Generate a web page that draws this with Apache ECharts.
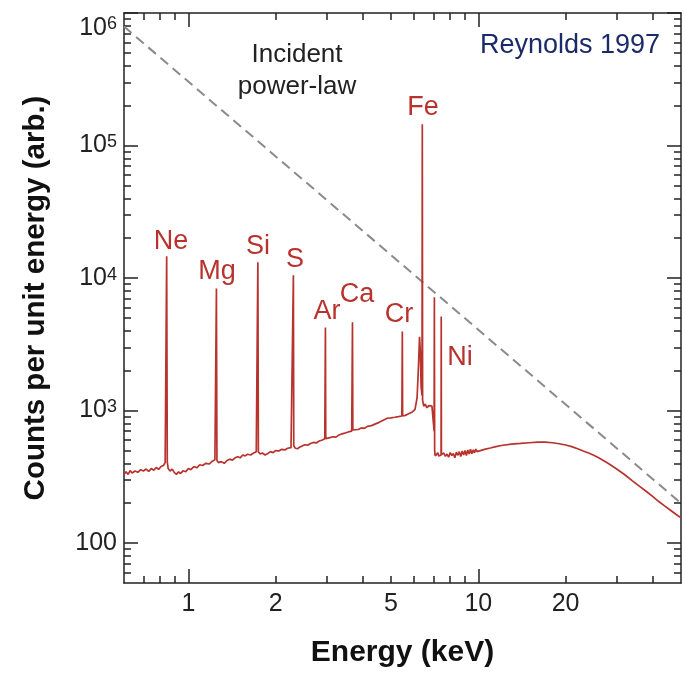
<!DOCTYPE html>
<html>
<head>
<meta charset="utf-8">
<title>Reynolds 1997 - X-ray spectrum</title>
<script src="https://cdn.jsdelivr.net/npm/echarts@6/dist/echarts.min.js"></script>
<style>
  html, body { margin: 0; padding: 0; background: #fff; }
  #main { width: 686px; height: 674px; }
</style>
</head>
<body>
<div id="main"></div>
<script>
// spectrum: energy in keV, counts per unit energy
var energy = [
  0.600, 0.610, 0.620, 0.630, 0.640, 0.655, 0.670, 0.685, 0.700, 0.715,
  0.730, 0.745, 0.760, 0.775, 0.790, 0.805, 0.820, 0.832,
  0.838, 0.842, 0.846,                       // Ne
  0.852, 0.865, 0.880, 0.895, 0.910, 0.925, 0.940, 0.960, 0.980, 1.000,
  1.020, 1.045, 1.070, 1.095, 1.120, 1.150, 1.180, 1.210, 1.235,
  1.245, 1.250, 1.255,                       // Mg
  1.270, 1.300, 1.330, 1.360, 1.390, 1.420, 1.450, 1.480, 1.510, 1.540,
  1.570, 1.600, 1.640, 1.680, 1.715,
  1.730, 1.737, 1.744,                       // Si
  1.770, 1.800, 1.840, 1.880, 1.920, 1.960, 2.000, 2.050, 2.100, 2.150,
  2.200, 2.260, 2.290,
  2.296, 2.303, 2.310,                       // S
  2.340, 2.380, 2.420, 2.470, 2.520, 2.580, 2.640, 2.700, 2.760, 2.830,
  2.900, 2.955,
  2.962, 2.970, 2.978,                       // Ar
  3.020, 3.080, 3.150, 3.230, 3.310, 3.390, 3.460, 3.560, 3.660,
  3.672, 3.682, 3.692,                       // Ca
  3.750, 3.850, 3.950, 4.050, 4.150, 4.280, 4.400, 4.550, 4.700, 4.850,
  5.000, 5.150, 5.300, 5.450,
  5.458, 5.470, 5.482,                       // Cr
  5.600, 5.750, 5.900, 6.050, 6.150, 6.220, 6.270, 6.310, 6.350,
  6.395, 6.410, 6.425,                       // Fe
  6.480, 6.560, 6.650, 6.750, 6.850, 6.920, 7.040,
  7.055,                                     // line at the edge
  7.070, 7.100, 7.150, 7.200, 7.250, 7.300, 7.380,
  7.440, 7.450, 7.460,                       // Ni
  7.520, 7.600, 7.700, 7.800, 7.900, 8.000, 8.100, 8.200, 8.300, 8.400,
  8.500, 8.600, 8.700, 8.800, 8.900, 9.000, 9.100, 9.200, 9.300, 9.400,
  9.500, 9.600, 9.700, 9.800, 9.900, 10.00,
  10.5, 11.0, 11.5, 12.0, 13.0, 14.0, 15.0, 16.0, 17.0, 18.0,
  19.0, 20.0, 21.0, 22.0, 23.0, 24.0, 25.0, 26.0, 27.0, 28.0,
  30.0, 32.0, 34.0, 36.0, 38.0, 40.0, 42.0, 44.0, 46.0, 48.0, 50.0
];
var counts = [
  330, 345, 330, 352, 338, 350, 342, 358, 350, 362,
  348, 365, 355, 372, 360, 378, 385, 405,
  400, 14600, 410,
  365, 350, 362, 340, 330, 345, 335, 352, 345, 365,
  358, 378, 370, 390, 385, 400, 395, 415, 425,
  425, 8350, 420,
  405, 412, 400, 420, 430, 422, 440, 448, 440, 462,
  455, 468, 462, 478, 490,
  490, 13150, 488,
  470, 478, 462, 475, 490, 482, 500, 495, 510, 505,
  520, 525, 535,
  535, 10480, 540,
  520, 515, 530, 540, 552, 548, 565, 575, 570, 590,
  600, 612,
  612, 4240, 615,
  605, 625, 635, 630, 655, 668, 675, 690, 700,
  700, 4630, 715,
  712, 720, 740, 735, 760, 770, 790, 815, 845, 875,
  880, 890, 900, 910,
  905, 3950, 910,
  920, 945, 970, 1020, 1250, 2200, 3600, 2800, 1500,
  1300, 145000, 1200,
  1080, 1120, 1050, 1090, 1060, 1080, 700,
  7150,
  500, 455, 470, 445, 480, 455, 470,
  460, 5130, 465,
  450, 478, 452, 470, 445, 482, 458, 475, 440, 485,
  460, 490, 450, 495, 462, 500, 458, 505, 470, 510,
  472, 505, 480, 512, 490, 500,
  510, 522, 535, 545, 558, 565, 572, 578, 578, 572,
  562, 550, 535, 515, 495, 478, 460, 440, 420, 400,
  362, 328, 295, 268, 245, 224, 205, 190, 177, 165, 155
];

// incident power law (end points)
var powerLawE = [0.6, 50];
var powerLawC = [790000, 200];

// axis ticks
var xLabels = [1, 2, 5, 10, 20];
var xMajor = [1, 10];
var xMinor = [0.7, 0.8, 0.9, 2, 3, 4, 5, 6, 7, 8, 9, 20, 30, 40];
var yMajor = [100, 1e3, 1e4, 1e5, 1e6];
var yMinor = [60, 70, 80, 90, 200, 300, 400, 500, 600, 700, 800, 900,
  2e3, 3e3, 4e3, 5e3, 6e3, 7e3, 8e3, 9e3, 2e4, 3e4, 4e4, 5e4, 6e4, 7e4, 8e4, 9e4,
  2e5, 3e5, 4e5, 5e5, 6e5, 7e5, 8e5, 9e5];

var FONT = "'Liberation Sans', Arial, Helvetica, sans-serif";
var RED = '#b8332d';
var AXIS = '#222';

function zip(a, b) {
  var out = [];
  for (var i = 0; i < a.length; i++) out.push([a[i], b[i]]);
  return out;
}

function makeAxis(dim, pos, ticks, len, main, labels) {
  var ax = {
    type: 'log',
    logBase: 10,
    position: pos,
    min: dim === 'x' ? 0.6 : 50,
    max: dim === 'x' ? 50 : 1e6,
    splitLine: { show: false },
    minorTick: { show: false },
    axisLine: { show: main, lineStyle: { color: AXIS, width: 1.5 } },
    axisTick: {
      show: true, inside: true, length: len, customValues: ticks,
      lineStyle: { color: AXIS, width: 1.5 }
    },
    axisLabel: { show: false }
  };
  if (labels) {
    ax.axisLabel = {
      show: true,
      customValues: labels,
      fontFamily: FONT,
      fontSize: 25,
      color: AXIS,
      margin: dim === 'x' ? 9 : 7
    };
    if (dim === 'x') {
      ax.axisLabel.formatter = function (v) { return String(v); };
    } else {
      ax.axisLabel.formatter = function (v) {
        if (v < 500) return '{b|100}';
        var e = Math.round(Math.log10(v));
        // the top label sits a little lower, as in the original
        if (v > 5e5) return '{gap| }\n{b|10}{s|' + e + '}';
        return '{b|10}{s|' + e + '}';
      };
      ax.axisLabel.rich = {
        b: { fontFamily: FONT, fontSize: 25, color: AXIS, lineHeight: 25, verticalAlign: 'bottom' },
        s: { fontFamily: FONT, fontSize: 18, color: AXIS, lineHeight: 18, verticalAlign: 'top' },
        gap: { fontSize: 10, lineHeight: 30 }
      };
    }
  }
  return ax;
}

var chart = echarts.init(document.getElementById('main'));

var xAxes = [
  makeAxis('x', 'bottom', xMajor, 14, true, xLabels),
  makeAxis('x', 'bottom', xMinor, 7, false),
  makeAxis('x', 'top', xMajor, 14, true),
  makeAxis('x', 'top', xMinor, 7, false)
];
xAxes[0].name = 'Energy (keV)';
xAxes[0].nameLocation = 'middle';
xAxes[0].nameGap = 55;
xAxes[0].nameTextStyle = { fontFamily: FONT, fontSize: 30, fontWeight: 'bold', color: '#111' };

var yAxes = [
  makeAxis('y', 'left', yMajor, 14, true, yMajor),
  makeAxis('y', 'left', yMinor, 7, false),
  makeAxis('y', 'right', yMajor, 14, true),
  makeAxis('y', 'right', yMinor, 7, false)
];
yAxes[0].name = 'Counts per unit energy (arb.)';
yAxes[0].nameLocation = 'middle';
yAxes[0].nameGap = 73;
yAxes[0].nameTextStyle = { fontFamily: FONT, fontSize: 29.5, fontWeight: 'bold', color: '#111' };

function label(text, x, y, color, size) {
  return {
    type: 'text',
    x: x, y: y,
    z: 10,
    style: {
      text: text,
      fill: color,
      font: size + 'px ' + FONT,
      align: 'center',
      verticalAlign: 'middle'
    }
  };
}

chart.setOption({
  backgroundColor: '#fff',
  animation: false,
  grid: { left: 124, top: 13, right: 5, bottom: 91, outerBoundsMode: 'none', containLabel: false },
  xAxis: xAxes,
  yAxis: yAxes,
  series: [
    {
      name: 'Incident power-law',
      type: 'line',
      data: zip(powerLawE, powerLawC),
      showSymbol: false,
      lineStyle: { color: '#8a8a8a', width: 2, type: [10, 6] },
      z: 2
    },
    {
      name: 'Spectrum',
      type: 'line',
      data: zip(energy, counts),
      showSymbol: false,
      sampling: null,
      lineStyle: { color: RED, width: 1.7 },
      z: 3
    }
  ],
  graphic: [
    label('Incident', 297, 55, '#222', 26),
    label('power-law', 297, 87, '#222', 26),
    label('Reynolds 1997', 570, 46, '#1b2a68', 27),
    label('Ne', 171, 242, RED, 27),
    label('Mg', 217, 272, RED, 27),
    label('Si', 258, 247, RED, 27),
    label('S', 295, 260, RED, 27),
    label('Ar', 327, 312, RED, 27),
    label('Ca', 357, 295, RED, 27),
    label('Cr', 399, 315, RED, 27),
    label('Fe', 423, 108, RED, 27),
    label('Ni', 460, 358, RED, 27)
  ]
});
</script>
</body>
</html>
